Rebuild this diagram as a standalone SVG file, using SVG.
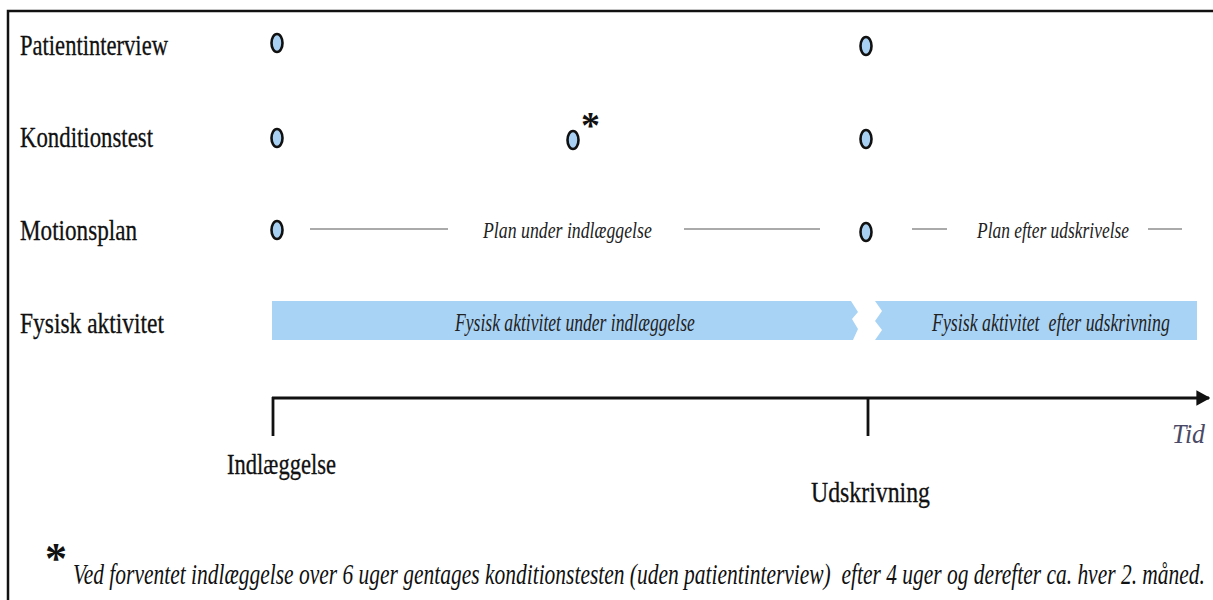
<svg xmlns="http://www.w3.org/2000/svg" width="1213" height="600" viewBox="0 0 1213 600">
<defs>
<style>
.lbl{font-family:"Liberation Serif","DejaVu Serif",serif;font-size:29px;fill:#111;stroke:#111;stroke-width:0.3}
.it{font-family:"Liberation Serif","DejaVu Serif",serif;font-style:italic;fill:#222}
.dot{fill:#a8d0f2;stroke:#111;stroke-width:2.6}
.pl{stroke:#aaa;stroke-width:1.8}
.bar{fill:#a9d3f5}
.ax{stroke:#111;stroke-width:2.8;fill:none}
</style>
<marker id="arr" viewBox="0 0 10 10" refX="9" refY="5" markerWidth="5" markerHeight="5.5" orient="auto" markerUnits="strokeWidth" preserveAspectRatio="none">
<path d="M0,0 L10,5 L0,10 z" fill="#111"/>
</marker>
</defs>
<rect width="1213" height="600" fill="#fff"/>
<path d="M8,600 V11 H1213" fill="none" stroke="#111" stroke-width="2.5"/>
<g id="labels">
<text class="lbl" transform="translate(20,55) scale(0.708,1)" textLength="209" lengthAdjust="spacingAndGlyphs">Patientinterview</text>
<text class="lbl" transform="translate(20,147) scale(0.727,1)" textLength="183" lengthAdjust="spacingAndGlyphs">Konditionstest</text>
<text class="lbl" transform="translate(20,240) scale(0.8125,1)" textLength="144" lengthAdjust="spacingAndGlyphs">Motionsplan</text>
<text class="lbl" transform="translate(20,333) scale(0.689,1)" textLength="209" lengthAdjust="spacingAndGlyphs">Fysisk aktivitet</text>
</g>
<g id="dots">
<ellipse class="dot" cx="277" cy="43" rx="5.5" ry="9"/>
<ellipse class="dot" cx="866" cy="46" rx="5.5" ry="9"/>
<ellipse class="dot" cx="277" cy="138" rx="5.5" ry="9"/>
<ellipse class="dot" cx="573" cy="140" rx="5.5" ry="9"/>
<text x="581" y="138" font-family="Liberation Serif,serif" font-size="38" font-weight="bold" fill="#111">*</text>
<ellipse class="dot" cx="866" cy="139" rx="5.5" ry="9"/>
<ellipse class="dot" cx="277" cy="230" rx="5.5" ry="9"/>
<ellipse class="dot" cx="866" cy="232" rx="5.5" ry="9"/>
</g>
<g id="plan">
<line class="pl" x1="310" y1="229" x2="448" y2="229"/>
<text class="it" style="font-size:23px" transform="translate(483,238) scale(0.8,1)" textLength="211" lengthAdjust="spacingAndGlyphs">Plan under indlæggelse</text>
<line class="pl" x1="684" y1="229" x2="820" y2="229"/>
<line class="pl" x1="912" y1="229" x2="947" y2="229"/>
<text class="it" style="font-size:23px" transform="translate(977,238) scale(0.717,1)" textLength="212" lengthAdjust="spacingAndGlyphs">Plan efter udskrivelse</text>
<line class="pl" x1="1148" y1="229" x2="1182" y2="229"/>
</g>
<g id="activity">
<path class="bar" d="M272,301 H851 L858,312 L852,319 L858,329 L853,340 H272 z"/>
<text class="it" style="font-size:25px" transform="translate(455,331) scale(0.672,1)" textLength="357" lengthAdjust="spacingAndGlyphs">Fysisk aktivitet under indlæggelse</text>
<path class="bar" d="M875,301 H1197 V340 H875 L882,330 L875,321 L882,311 z"/>
<text class="it" style="font-size:25px" transform="translate(932,331) scale(0.65,1)" textLength="366" lengthAdjust="spacingAndGlyphs" xml:space="preserve">Fysisk aktivitet  efter udskrivning</text>
</g>
<g id="connectors">
<line class="ax" x1="272" y1="398" x2="1209" y2="398" marker-end="url(#arr)"/>
<line class="ax" x1="273" y1="397" x2="273" y2="436"/>
<line class="ax" x1="868" y1="398" x2="868" y2="436"/>
</g>
<g id="axislabels">
<text x="1172" y="443" font-family="Liberation Serif,serif" font-style="italic" font-size="27" fill="#4a4a66" textLength="33" lengthAdjust="spacingAndGlyphs">Tid</text>
<text class="lbl" transform="translate(227,474) scale(0.757,1)" textLength="144" lengthAdjust="spacingAndGlyphs">Indlæggelse</text>
<text class="lbl" transform="translate(811,502) scale(0.826,1)" textLength="144" lengthAdjust="spacingAndGlyphs">Udskrivning</text>
</g>
<g id="footnote">
<text x="45" y="573" font-family="Liberation Serif,serif" font-size="44" font-weight="bold" fill="#111">*</text>
<text class="it" style="font-size:30px;fill:#111" transform="translate(73,584) scale(0.675,1)" textLength="1677" lengthAdjust="spacingAndGlyphs" xml:space="preserve">Ved forventet indlæggelse over 6 uger gentages konditionstesten (uden patientinterview)  efter 4 uger og derefter ca. hver 2. måned.</text>
</g>
</svg>
